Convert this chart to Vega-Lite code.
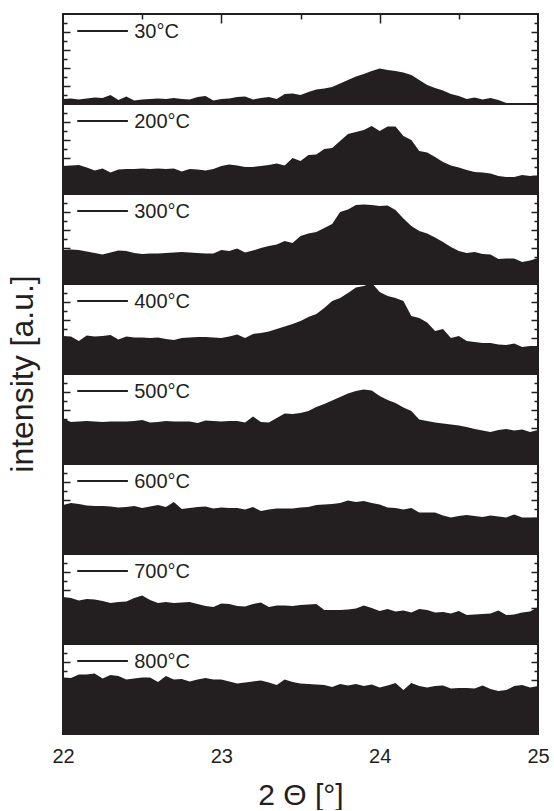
{
  "$schema": "https://vega.github.io/schema/vega-lite/v6.json",
  "padding": {"left": 6, "top": 13, "right": 5, "bottom": 0},
  "background": "white",
  "bounds": "flush",
  "data": {"values": [
{"T":"30°C","x":22,"y":5},{"T":"30°C","x":22.05,"y":5.5},{"T":"30°C","x":22.1,"y":4.5},{"T":"30°C","x":22.15,"y":5.5},{"T":"30°C","x":22.2,"y":6.5},{"T":"30°C","x":22.25,"y":6},{"T":"30°C","x":22.3,"y":9},{"T":"30°C","x":22.35,"y":4},{"T":"30°C","x":22.4,"y":7.5},{"T":"30°C","x":22.45,"y":3.5},{"T":"30°C","x":22.5,"y":4.5},{"T":"30°C","x":22.55,"y":5},{"T":"30°C","x":22.6,"y":5.5},{"T":"30°C","x":22.65,"y":5},{"T":"30°C","x":22.7,"y":6},{"T":"30°C","x":22.75,"y":5},{"T":"30°C","x":22.8,"y":4.5},{"T":"30°C","x":22.85,"y":7},{"T":"30°C","x":22.9,"y":8},{"T":"30°C","x":22.95,"y":3.5},{"T":"30°C","x":23,"y":5},
{"T":"30°C","x":23.05,"y":5.5},{"T":"30°C","x":23.1,"y":7},{"T":"30°C","x":23.15,"y":7.5},{"T":"30°C","x":23.2,"y":4.5},{"T":"30°C","x":23.25,"y":6},{"T":"30°C","x":23.3,"y":7},{"T":"30°C","x":23.35,"y":5},{"T":"30°C","x":23.4,"y":10},{"T":"30°C","x":23.45,"y":10.5},{"T":"30°C","x":23.5,"y":9},{"T":"30°C","x":23.55,"y":12},{"T":"30°C","x":23.6,"y":14.5},{"T":"30°C","x":23.65,"y":15.5},{"T":"30°C","x":23.7,"y":17},{"T":"30°C","x":23.75,"y":20.5},{"T":"30°C","x":23.8,"y":24},{"T":"30°C","x":23.85,"y":27.5},{"T":"30°C","x":23.9,"y":30},{"T":"30°C","x":23.95,"y":33},{"T":"30°C","x":24,"y":35.5},
{"T":"30°C","x":24.05,"y":34},{"T":"30°C","x":24.1,"y":33},{"T":"30°C","x":24.15,"y":31.5},{"T":"30°C","x":24.2,"y":29},{"T":"30°C","x":24.25,"y":24},{"T":"30°C","x":24.3,"y":19},{"T":"30°C","x":24.35,"y":16},{"T":"30°C","x":24.4,"y":13.5},{"T":"30°C","x":24.45,"y":10},{"T":"30°C","x":24.5,"y":8},{"T":"30°C","x":24.55,"y":5},{"T":"30°C","x":24.6,"y":6.5},{"T":"30°C","x":24.65,"y":4.5},{"T":"30°C","x":24.7,"y":6},{"T":"30°C","x":24.75,"y":4},{"T":"30°C","x":24.8,"y":1},{"T":"30°C","x":24.85,"y":0.5},{"T":"30°C","x":24.9,"y":0.5},{"T":"30°C","x":24.95,"y":0.5},{"T":"30°C","x":25,"y":0.5},

{"T":"200°C","x":22,"y":28},{"T":"200°C","x":22.05,"y":28.5},{"T":"200°C","x":22.1,"y":29},{"T":"200°C","x":22.15,"y":26.5},{"T":"200°C","x":22.2,"y":23.5},{"T":"200°C","x":22.25,"y":25.5},{"T":"200°C","x":22.3,"y":21.5},{"T":"200°C","x":22.35,"y":24.5},{"T":"200°C","x":22.4,"y":25},{"T":"200°C","x":22.45,"y":25},{"T":"200°C","x":22.5,"y":25.5},{"T":"200°C","x":22.55,"y":25},{"T":"200°C","x":22.6,"y":25.5},{"T":"200°C","x":22.65,"y":25},{"T":"200°C","x":22.7,"y":25.5},{"T":"200°C","x":22.75,"y":22.5},{"T":"200°C","x":22.8,"y":25},{"T":"200°C","x":22.85,"y":24.5},{"T":"200°C","x":22.9,"y":23.5},{"T":"200°C","x":22.95,"y":25},{"T":"200°C","x":23,"y":28},
{"T":"200°C","x":23.05,"y":29.5},{"T":"200°C","x":23.1,"y":28.5},{"T":"200°C","x":23.15,"y":27},{"T":"200°C","x":23.2,"y":27},{"T":"200°C","x":23.25,"y":28},{"T":"200°C","x":23.3,"y":29},{"T":"200°C","x":23.35,"y":30.5},{"T":"200°C","x":23.4,"y":28.5},{"T":"200°C","x":23.45,"y":36},{"T":"200°C","x":23.5,"y":33},{"T":"200°C","x":23.55,"y":39},{"T":"200°C","x":23.6,"y":39.5},{"T":"200°C","x":23.65,"y":45},{"T":"200°C","x":23.7,"y":46},{"T":"200°C","x":23.75,"y":53},{"T":"200°C","x":23.8,"y":60},{"T":"200°C","x":23.85,"y":62},{"T":"200°C","x":23.9,"y":64},{"T":"200°C","x":23.95,"y":68},{"T":"200°C","x":24,"y":63},
{"T":"200°C","x":24.05,"y":67.5},{"T":"200°C","x":24.1,"y":67.5},{"T":"200°C","x":24.15,"y":58},{"T":"200°C","x":24.2,"y":54},{"T":"200°C","x":24.25,"y":43},{"T":"200°C","x":24.3,"y":41.5},{"T":"200°C","x":24.35,"y":37},{"T":"200°C","x":24.4,"y":32},{"T":"200°C","x":24.45,"y":28.5},{"T":"200°C","x":24.5,"y":26.5},{"T":"200°C","x":24.55,"y":24},{"T":"200°C","x":24.6,"y":22},{"T":"200°C","x":24.65,"y":21.5},{"T":"200°C","x":24.7,"y":20.5},{"T":"200°C","x":24.75,"y":18},{"T":"200°C","x":24.8,"y":17},{"T":"200°C","x":24.85,"y":17},{"T":"200°C","x":24.9,"y":19},{"T":"200°C","x":24.95,"y":18},{"T":"200°C","x":25,"y":18.5},

{"T":"300°C","x":22,"y":34},{"T":"300°C","x":22.05,"y":34.5},{"T":"300°C","x":22.1,"y":34},{"T":"300°C","x":22.15,"y":32.5},{"T":"300°C","x":22.2,"y":31},{"T":"300°C","x":22.25,"y":29.5},{"T":"300°C","x":22.3,"y":31.5},{"T":"300°C","x":22.35,"y":33.5},{"T":"300°C","x":22.4,"y":33},{"T":"300°C","x":22.45,"y":31},{"T":"300°C","x":22.5,"y":30},{"T":"300°C","x":22.55,"y":30.5},{"T":"300°C","x":22.6,"y":30.5},{"T":"300°C","x":22.65,"y":31},{"T":"300°C","x":22.7,"y":31.5},{"T":"300°C","x":22.75,"y":32},{"T":"300°C","x":22.8,"y":31.5},{"T":"300°C","x":22.85,"y":31},{"T":"300°C","x":22.9,"y":30.5},{"T":"300°C","x":22.95,"y":30.5},{"T":"300°C","x":23,"y":34},
{"T":"300°C","x":23.05,"y":33},{"T":"300°C","x":23.1,"y":35.5},{"T":"300°C","x":23.15,"y":31.5},{"T":"300°C","x":23.2,"y":33.5},{"T":"300°C","x":23.25,"y":36},{"T":"300°C","x":23.3,"y":38},{"T":"300°C","x":23.35,"y":39.5},{"T":"300°C","x":23.4,"y":43},{"T":"300°C","x":23.45,"y":41},{"T":"300°C","x":23.5,"y":48},{"T":"300°C","x":23.55,"y":50.5},{"T":"300°C","x":23.6,"y":52},{"T":"300°C","x":23.65,"y":56},{"T":"300°C","x":23.7,"y":60},{"T":"300°C","x":23.75,"y":72},{"T":"300°C","x":23.8,"y":74.5},{"T":"300°C","x":23.85,"y":79},{"T":"300°C","x":23.9,"y":79.5},{"T":"300°C","x":23.95,"y":79},{"T":"300°C","x":24,"y":78},
{"T":"300°C","x":24.05,"y":78.5},{"T":"300°C","x":24.1,"y":74},{"T":"300°C","x":24.15,"y":65.5},{"T":"300°C","x":24.2,"y":58},{"T":"300°C","x":24.25,"y":53},{"T":"300°C","x":24.3,"y":50.5},{"T":"300°C","x":24.35,"y":46.5},{"T":"300°C","x":24.4,"y":42},{"T":"300°C","x":24.45,"y":37},{"T":"300°C","x":24.5,"y":33},{"T":"300°C","x":24.55,"y":31},{"T":"300°C","x":24.6,"y":32},{"T":"300°C","x":24.65,"y":30},{"T":"300°C","x":24.7,"y":29.5},{"T":"300°C","x":24.75,"y":25},{"T":"300°C","x":24.8,"y":25.5},{"T":"300°C","x":24.85,"y":25.5},{"T":"300°C","x":24.9,"y":22},{"T":"300°C","x":24.95,"y":23.5},{"T":"300°C","x":25,"y":26},

{"T":"400°C","x":22,"y":38},{"T":"400°C","x":22.05,"y":37.5},{"T":"400°C","x":22.1,"y":33},{"T":"400°C","x":22.15,"y":38.5},{"T":"400°C","x":22.2,"y":37.5},{"T":"400°C","x":22.25,"y":38},{"T":"400°C","x":22.3,"y":39},{"T":"400°C","x":22.35,"y":34.5},{"T":"400°C","x":22.4,"y":37.5},{"T":"400°C","x":22.45,"y":36.5},{"T":"400°C","x":22.5,"y":36.5},{"T":"400°C","x":22.55,"y":36},{"T":"400°C","x":22.6,"y":36.5},{"T":"400°C","x":22.65,"y":35},{"T":"400°C","x":22.7,"y":34},{"T":"400°C","x":22.75,"y":36},{"T":"400°C","x":22.8,"y":36.5},{"T":"400°C","x":22.85,"y":37},{"T":"400°C","x":22.9,"y":37},{"T":"400°C","x":22.95,"y":36.5},{"T":"400°C","x":23,"y":36},
{"T":"400°C","x":23.05,"y":37.5},{"T":"400°C","x":23.1,"y":39.5},{"T":"400°C","x":23.15,"y":36},{"T":"400°C","x":23.2,"y":40},{"T":"400°C","x":23.25,"y":41},{"T":"400°C","x":23.3,"y":42.5},{"T":"400°C","x":23.35,"y":45},{"T":"400°C","x":23.4,"y":47.5},{"T":"400°C","x":23.45,"y":50},{"T":"400°C","x":23.5,"y":53},{"T":"400°C","x":23.55,"y":57},{"T":"400°C","x":23.6,"y":60},{"T":"400°C","x":23.65,"y":66},{"T":"400°C","x":23.7,"y":73},{"T":"400°C","x":23.75,"y":76},{"T":"400°C","x":23.8,"y":81},{"T":"400°C","x":23.85,"y":86.5},{"T":"400°C","x":23.9,"y":88},{"T":"400°C","x":23.95,"y":91},{"T":"400°C","x":24,"y":82},
{"T":"400°C","x":24.05,"y":78},{"T":"400°C","x":24.1,"y":76},{"T":"400°C","x":24.15,"y":73},{"T":"400°C","x":24.2,"y":58},{"T":"400°C","x":24.25,"y":56},{"T":"400°C","x":24.3,"y":51.5},{"T":"400°C","x":24.35,"y":43},{"T":"400°C","x":24.4,"y":45},{"T":"400°C","x":24.45,"y":36},{"T":"400°C","x":24.5,"y":38},{"T":"400°C","x":24.55,"y":33},{"T":"400°C","x":24.6,"y":32},{"T":"400°C","x":24.65,"y":31},{"T":"400°C","x":24.7,"y":31},{"T":"400°C","x":24.75,"y":29.5},{"T":"400°C","x":24.8,"y":29},{"T":"400°C","x":24.85,"y":30.5},{"T":"400°C","x":24.9,"y":27},{"T":"400°C","x":24.95,"y":28},{"T":"400°C","x":25,"y":28},

{"T":"500°C","x":22,"y":45.5},{"T":"500°C","x":22.05,"y":42},{"T":"500°C","x":22.1,"y":42.5},{"T":"500°C","x":22.15,"y":43},{"T":"500°C","x":22.2,"y":42.5},{"T":"500°C","x":22.25,"y":42},{"T":"500°C","x":22.3,"y":42.5},{"T":"500°C","x":22.35,"y":42.5},{"T":"500°C","x":22.4,"y":42.5},{"T":"500°C","x":22.45,"y":43},{"T":"500°C","x":22.5,"y":44},{"T":"500°C","x":22.55,"y":41.5},{"T":"500°C","x":22.6,"y":42},{"T":"500°C","x":22.65,"y":43},{"T":"500°C","x":22.7,"y":42.5},{"T":"500°C","x":22.75,"y":42.5},{"T":"500°C","x":22.8,"y":42.5},{"T":"500°C","x":22.85,"y":41},{"T":"500°C","x":22.9,"y":43.5},{"T":"500°C","x":22.95,"y":43},{"T":"500°C","x":23,"y":42.5},
{"T":"500°C","x":23.05,"y":43},{"T":"500°C","x":23.1,"y":43},{"T":"500°C","x":23.15,"y":41.5},{"T":"500°C","x":23.2,"y":47.5},{"T":"500°C","x":23.25,"y":42},{"T":"500°C","x":23.3,"y":41.5},{"T":"500°C","x":23.35,"y":46},{"T":"500°C","x":23.4,"y":50.5},{"T":"500°C","x":23.45,"y":50},{"T":"500°C","x":23.5,"y":51},{"T":"500°C","x":23.55,"y":53},{"T":"500°C","x":23.6,"y":57},{"T":"500°C","x":23.65,"y":60},{"T":"500°C","x":23.7,"y":63.5},{"T":"500°C","x":23.75,"y":67},{"T":"500°C","x":23.8,"y":70.5},{"T":"500°C","x":23.85,"y":73},{"T":"500°C","x":23.9,"y":74.5},{"T":"500°C","x":23.95,"y":73.5},{"T":"500°C","x":24,"y":68},
{"T":"500°C","x":24.05,"y":64},{"T":"500°C","x":24.1,"y":61},{"T":"500°C","x":24.15,"y":56.5},{"T":"500°C","x":24.2,"y":53},{"T":"500°C","x":24.25,"y":44.5},{"T":"500°C","x":24.3,"y":43},{"T":"500°C","x":24.35,"y":41.5},{"T":"500°C","x":24.4,"y":40.5},{"T":"500°C","x":24.45,"y":39.5},{"T":"500°C","x":24.5,"y":38.5},{"T":"500°C","x":24.55,"y":37},{"T":"500°C","x":24.6,"y":35},{"T":"500°C","x":24.65,"y":33.5},{"T":"500°C","x":24.7,"y":32},{"T":"500°C","x":24.75,"y":34},{"T":"500°C","x":24.8,"y":35},{"T":"500°C","x":24.85,"y":33.5},{"T":"500°C","x":24.9,"y":34.5},{"T":"500°C","x":24.95,"y":32},{"T":"500°C","x":25,"y":34},

{"T":"600°C","x":22,"y":49},{"T":"600°C","x":22.05,"y":51},{"T":"600°C","x":22.1,"y":50},{"T":"600°C","x":22.15,"y":48.5},{"T":"600°C","x":22.2,"y":48},{"T":"600°C","x":22.25,"y":48},{"T":"600°C","x":22.3,"y":47.5},{"T":"600°C","x":22.35,"y":46.5},{"T":"600°C","x":22.4,"y":47},{"T":"600°C","x":22.45,"y":48},{"T":"600°C","x":22.5,"y":46},{"T":"600°C","x":22.55,"y":47.5},{"T":"600°C","x":22.6,"y":49},{"T":"600°C","x":22.65,"y":47},{"T":"600°C","x":22.7,"y":52},{"T":"600°C","x":22.75,"y":45},{"T":"600°C","x":22.8,"y":46},{"T":"600°C","x":22.85,"y":47},{"T":"600°C","x":22.9,"y":47.5},{"T":"600°C","x":22.95,"y":45.5},{"T":"600°C","x":23,"y":46.5},
{"T":"600°C","x":23.05,"y":46},{"T":"600°C","x":23.1,"y":46},{"T":"600°C","x":23.15,"y":44.5},{"T":"600°C","x":23.2,"y":47},{"T":"600°C","x":23.25,"y":43},{"T":"600°C","x":23.3,"y":44.5},{"T":"600°C","x":23.35,"y":45.5},{"T":"600°C","x":23.4,"y":45.5},{"T":"600°C","x":23.45,"y":45.5},{"T":"600°C","x":23.5,"y":46.5},{"T":"600°C","x":23.55,"y":47},{"T":"600°C","x":23.6,"y":49},{"T":"600°C","x":23.65,"y":49.5},{"T":"600°C","x":23.7,"y":50},{"T":"600°C","x":23.75,"y":51},{"T":"600°C","x":23.8,"y":53.5},{"T":"600°C","x":23.85,"y":52},{"T":"600°C","x":23.9,"y":53},{"T":"600°C","x":23.95,"y":51},{"T":"600°C","x":24,"y":49.5},
{"T":"600°C","x":24.05,"y":46.5},{"T":"600°C","x":24.1,"y":46},{"T":"600°C","x":24.15,"y":44.5},{"T":"600°C","x":24.2,"y":46},{"T":"600°C","x":24.25,"y":41.5},{"T":"600°C","x":24.3,"y":41.5},{"T":"600°C","x":24.35,"y":41.5},{"T":"600°C","x":24.4,"y":38.5},{"T":"600°C","x":24.45,"y":36.5},{"T":"600°C","x":24.5,"y":38},{"T":"600°C","x":24.55,"y":39},{"T":"600°C","x":24.6,"y":38},{"T":"600°C","x":24.65,"y":37},{"T":"600°C","x":24.7,"y":38.5},{"T":"600°C","x":24.75,"y":37.5},{"T":"600°C","x":24.8,"y":36.5},{"T":"600°C","x":24.85,"y":39.5},{"T":"600°C","x":24.9,"y":36.5},{"T":"600°C","x":24.95,"y":36.5},{"T":"600°C","x":25,"y":36.5},

{"T":"700°C","x":22,"y":47},{"T":"700°C","x":22.05,"y":46},{"T":"700°C","x":22.1,"y":43.5},{"T":"700°C","x":22.15,"y":45},{"T":"700°C","x":22.2,"y":44.5},{"T":"700°C","x":22.25,"y":43},{"T":"700°C","x":22.3,"y":41},{"T":"700°C","x":22.35,"y":42},{"T":"700°C","x":22.4,"y":42.5},{"T":"700°C","x":22.45,"y":46},{"T":"700°C","x":22.5,"y":48.5},{"T":"700°C","x":22.55,"y":44},{"T":"700°C","x":22.6,"y":41},{"T":"700°C","x":22.65,"y":42},{"T":"700°C","x":22.7,"y":41},{"T":"700°C","x":22.75,"y":41.5},{"T":"700°C","x":22.8,"y":42},{"T":"700°C","x":22.85,"y":40},{"T":"700°C","x":22.9,"y":38},{"T":"700°C","x":22.95,"y":37},{"T":"700°C","x":23,"y":40.5},
{"T":"700°C","x":23.05,"y":40},{"T":"700°C","x":23.1,"y":38},{"T":"700°C","x":23.15,"y":37.5},{"T":"700°C","x":23.2,"y":40},{"T":"700°C","x":23.25,"y":41.5},{"T":"700°C","x":23.3,"y":37},{"T":"700°C","x":23.35,"y":38.5},{"T":"700°C","x":23.4,"y":38.5},{"T":"700°C","x":23.45,"y":38},{"T":"700°C","x":23.5,"y":39},{"T":"700°C","x":23.55,"y":39.5},{"T":"700°C","x":23.6,"y":40},{"T":"700°C","x":23.65,"y":34},{"T":"700°C","x":23.7,"y":34},{"T":"700°C","x":23.75,"y":34},{"T":"700°C","x":23.8,"y":34.5},{"T":"700°C","x":23.85,"y":35.5},{"T":"700°C","x":23.9,"y":38.5},{"T":"700°C","x":23.95,"y":36},{"T":"700°C","x":24,"y":33},
{"T":"700°C","x":24.05,"y":35},{"T":"700°C","x":24.1,"y":32.5},{"T":"700°C","x":24.15,"y":33.5},{"T":"700°C","x":24.2,"y":31.5},{"T":"700°C","x":24.25,"y":35},{"T":"700°C","x":24.3,"y":34},{"T":"700°C","x":24.35,"y":31.5},{"T":"700°C","x":24.4,"y":32},{"T":"700°C","x":24.45,"y":30.5},{"T":"700°C","x":24.5,"y":33},{"T":"700°C","x":24.55,"y":29},{"T":"700°C","x":24.6,"y":29.5},{"T":"700°C","x":24.65,"y":30},{"T":"700°C","x":24.7,"y":30.5},{"T":"700°C","x":24.75,"y":33.5},{"T":"700°C","x":24.8,"y":29},{"T":"700°C","x":24.85,"y":29.5},{"T":"700°C","x":24.9,"y":31.5},{"T":"700°C","x":24.95,"y":32.5},{"T":"700°C","x":25,"y":37},

{"T":"800°C","x":22,"y":56.5},{"T":"800°C","x":22.05,"y":56},{"T":"800°C","x":22.1,"y":59.5},{"T":"800°C","x":22.15,"y":59.5},{"T":"800°C","x":22.2,"y":60.5},{"T":"800°C","x":22.25,"y":55.5},{"T":"800°C","x":22.3,"y":59},{"T":"800°C","x":22.35,"y":58},{"T":"800°C","x":22.4,"y":54.5},{"T":"800°C","x":22.45,"y":55.5},{"T":"800°C","x":22.5,"y":56.5},{"T":"800°C","x":22.55,"y":56.5},{"T":"800°C","x":22.6,"y":52},{"T":"800°C","x":22.65,"y":58},{"T":"800°C","x":22.7,"y":54.5},{"T":"800°C","x":22.75,"y":55},{"T":"800°C","x":22.8,"y":52.5},{"T":"800°C","x":22.85,"y":54.5},{"T":"800°C","x":22.9,"y":56},{"T":"800°C","x":22.95,"y":54.5},{"T":"800°C","x":23,"y":54.5},
{"T":"800°C","x":23.05,"y":52.5},{"T":"800°C","x":23.1,"y":50.5},{"T":"800°C","x":23.15,"y":51.5},{"T":"800°C","x":23.2,"y":52.5},{"T":"800°C","x":23.25,"y":53.5},{"T":"800°C","x":23.3,"y":51.5},{"T":"800°C","x":23.35,"y":49},{"T":"800°C","x":23.4,"y":54.5},{"T":"800°C","x":23.45,"y":52},{"T":"800°C","x":23.5,"y":50.5},{"T":"800°C","x":23.55,"y":50},{"T":"800°C","x":23.6,"y":49.5},{"T":"800°C","x":23.65,"y":49},{"T":"800°C","x":23.7,"y":47},{"T":"800°C","x":23.75,"y":50},{"T":"800°C","x":23.8,"y":48.5},{"T":"800°C","x":23.85,"y":50},{"T":"800°C","x":23.9,"y":48},{"T":"800°C","x":23.95,"y":49.5},{"T":"800°C","x":24,"y":46.5},
{"T":"800°C","x":24.05,"y":48.5},{"T":"800°C","x":24.1,"y":51},{"T":"800°C","x":24.15,"y":44},{"T":"800°C","x":24.2,"y":51},{"T":"800°C","x":24.25,"y":48},{"T":"800°C","x":24.3,"y":46.5},{"T":"800°C","x":24.35,"y":48},{"T":"800°C","x":24.4,"y":48.5},{"T":"800°C","x":24.45,"y":45.5},{"T":"800°C","x":24.5,"y":46},{"T":"800°C","x":24.55,"y":46},{"T":"800°C","x":24.6,"y":45.5},{"T":"800°C","x":24.65,"y":48.5},{"T":"800°C","x":24.7,"y":45},{"T":"800°C","x":24.75,"y":43},{"T":"800°C","x":24.8,"y":44},{"T":"800°C","x":24.85,"y":48},{"T":"800°C","x":24.9,"y":49},{"T":"800°C","x":24.95,"y":46.5},{"T":"800°C","x":25,"y":48}
  ]},
  "facet": {
    "row": {
      "field": "T",
      "type": "nominal",
      "sort": ["30°C", "200°C", "300°C", "400°C", "500°C", "600°C", "700°C", "800°C"],
      "header": {
        "title": "intensity [a.u.]",
        "labels": false,
        "titleFont": "Liberation Sans",
        "titleFontSize": 32,
        "titleFontWeight": "normal",
        "titleColor": "#231f20",
        "titlePadding": 12
      }
    }
  },
  "spacing": 0,
  "spec": {
    "width": 475,
    "height": 90,
    "layer": [
      {
        "mark": {"type": "area", "color": "#231f20", "clip": true, "interpolate": "linear"},
        "encoding": {
          "x": {
            "field": "x", "type": "quantitative",
            "scale": {"domain": [22, 25], "nice": false, "zero": false},
            "axis": {
              "orient": "bottom", "values": [22, 23, 24, 25], "format": "d",
              "ticks": false, "labelFontSize": 20, "labelPadding": 12, "labelFlush": false,
              "title": "2 Θ [°]", "titleFontSize": 30, "titleFontWeight": "normal", "titlePadding": 14
            }
          },
          "y": {
            "field": "y", "type": "quantitative",
            "scale": {"domain": [0, 90], "nice": false, "zero": true},
            "axis": {"orient": "left", "values": [18, 36, 54, 72], "tickSize": -7, "labels": false, "title": null}
          }
        }
      },
      {
        "transform": [{"aggregate": [{"op": "count", "as": "n"}], "groupby": ["T"]}],
        "mark": {"type": "rule", "color": "#231f20", "strokeWidth": 2},
        "encoding": {
          "x": {"datum": 22.09, "axis": {"orient": "top", "values": [23, 24], "tickSize": -9, "labels": false, "title": null}},
          "x2": {"datum": 22.41},
          "y": {"datum": 73, "axis": {"orient": "left", "values": [9, 27, 45, 63, 81], "tickSize": -4, "labels": false, "title": null}}
        }
      },
      {
        "transform": [{"aggregate": [{"op": "count", "as": "n"}], "groupby": ["T"]}],
        "mark": {"type": "text", "align": "left", "baseline": "middle", "fontSize": 20, "font": "Liberation Sans", "color": "#231f20"},
        "encoding": {
          "x": {"datum": 22.45, "axis": {"orient": "top", "values": [22.5, 23.5, 24.5], "tickSize": -5, "labels": false, "title": null}},
          "y": {"datum": 72, "axis": {"orient": "right", "values": [18, 36, 54, 72], "tickSize": -7, "labels": false, "title": null}},
          "text": {"field": "T"}
        }
      },
      {
        "transform": [{"aggregate": [{"op": "count", "as": "n"}], "groupby": ["T"]}],
        "mark": {"type": "rule", "opacity": 0},
        "encoding": {
          "x": {"datum": 22.09, "axis": null},
          "x2": {"datum": 22.41},
          "y": {"datum": 73, "axis": {"orient": "right", "values": [9, 27, 45, 63, 81], "tickSize": -4, "labels": false, "title": null}}
        }
      }
    ],
    "resolve": {"axis": {"x": "independent", "y": "independent"}}
  },
  "config": {
    "font": "Liberation Sans",
    "view": {"stroke": "#231f20", "strokeWidth": 2},
    "axis": {
      "domain": false, "grid": false,
      "tickColor": "#231f20", "tickWidth": 1.5,
      "labelColor": "#231f20", "titleColor": "#231f20", "labelFont": "Liberation Sans", "titleFont": "Liberation Sans"
    }
  }
}
